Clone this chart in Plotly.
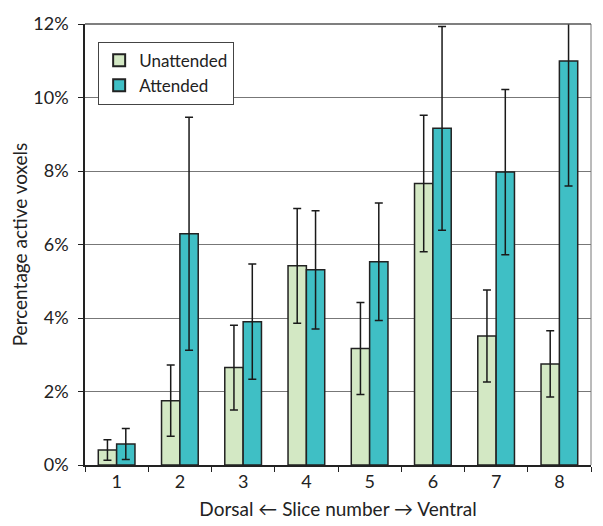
import plotly.graph_objects as go

slices = ["1", "2", "3", "4", "5", "6", "7", "8"]
unattended = [0.41, 1.75, 2.65, 5.42, 3.17, 7.66, 3.51, 2.75]
unattended_err = [0.28, 0.97, 1.15, 1.56, 1.25, 1.86, 1.25, 0.90]
attended = [0.57, 6.29, 3.90, 5.31, 5.53, 9.16, 7.97, 10.99]
attended_err = [0.42, 3.17, 1.57, 1.61, 1.60, 2.77, 2.25, 3.40]
y_ticks = [0, 2, 4, 6, 8, 10, 12]
y_tick_labels = ["0%", "2%", "4%", "6%", "8%", "10%", "12%"]

FONT = "Lato, 'Open Sans', sans-serif"
edge = dict(color="#222222", width=1.5)

fig = go.Figure()
fig.add_trace(go.Bar(
    name="Unattended", x=slices, y=unattended,
    marker=dict(color="#d3e8c4", line=edge),
    error_y=dict(type="data", array=unattended_err, color="#1a1a1a", thickness=1.5, width=4),
))
fig.add_trace(go.Bar(
    name="Attended", x=slices, y=attended,
    marker=dict(color="#3fbfc5", line=edge),
    error_y=dict(type="data", array=attended_err, color="#1a1a1a", thickness=1.5, width=4),
))

fig.update_layout(
    width=595, height=518,
    margin=dict(l=77, r=12, t=16, b=61, autoexpand=False),
    barmode="group", bargap=0.42, bargroupgap=0,
    plot_bgcolor="white", paper_bgcolor="white",
    font=dict(family=FONT, size=18, color="#222222"),
    legend=dict(
        x=0.026, y=0.96, xanchor="left", yanchor="top",
        bgcolor="white", bordercolor="#444444", borderwidth=1,
        font=dict(size=17), itemsizing="constant",
        tracegroupgap=0,
    ),
    xaxis=dict(
        title=dict(text="Dorsal ← Slice number → Ventral", font=dict(size=19), standoff=11),
        showline=True, linecolor="#222222", linewidth=1.5,
        ticks="outside", ticklen=5, tickcolor="#222222", tickson="boundaries",
        tickfont=dict(size=18), automargin=False,
    ),
    yaxis=dict(
        title=dict(text="Percentage active voxels", font=dict(size=19), standoff=14),
        range=[0, 12], tickvals=y_ticks, ticktext=y_tick_labels,
        showline=True, linecolor="#222222", linewidth=1.5,
        ticks="outside", ticklen=5, tickcolor="#222222", ticklabelstandoff=6,
        showgrid=True, gridcolor="#777777", gridwidth=1,
        zeroline=False, tickfont=dict(size=18), automargin=False,
    ),
)
fig.add_shape(type="line", xref="paper", yref="paper", x0=1, x1=1, y0=0, y1=1,
              line=dict(color="#777777", width=1))
fig.add_shape(type="line", xref="paper", yref="paper", x0=0, x1=1, y0=1, y1=1,
              line=dict(color="#555555", width=1.5))

fig.write_html("out.html")
